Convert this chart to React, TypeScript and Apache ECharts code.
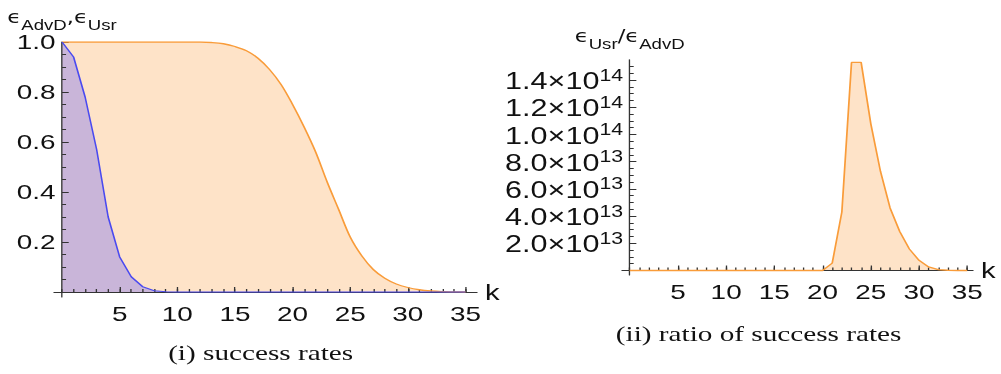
import React, { useEffect, useRef } from "react";
import * as echarts from "echarts";

// ---- data ----
const kValues = Array.from({ length: 36 }, (_, i) => i); // 0..35
const epsAdvD = [
  1.0, 0.94, 0.78, 0.57, 0.3, 0.14, 0.061, 0.021, 0.005, 0.001, 0, 0, 0, 0, 0, 0, 0, 0,
  0, 0, 0, 0, 0, 0, 0, 0, 0, 0, 0, 0, 0, 0, 0, 0, 0, 0,
];
const epsUsr = [
  1.0, 1.0, 1.0, 1.0, 1.0, 1.0, 1.0, 1.0, 1.0, 1.0, 1.0, 1.0, 1.0, 0.998, 0.993, 0.982,
  0.965, 0.935, 0.89, 0.83, 0.75, 0.66, 0.56, 0.44, 0.33, 0.22, 0.145, 0.09, 0.055, 0.032,
  0.018, 0.009, 0.004, 0.0015, 0.0005, 0,
];
const ratio = [
  0, 0, 0, 0, 0, 0, 0, 0, 0, 0, 0, 0, 0, 0, 0, 0, 0, 0, 0, 0, 0, 0.54e13, 4.3e13, 1.53e14,
  1.53e14, 10.8e13, 7.3e13, 4.6e13, 2.87e13, 1.58e13, 0.75e13, 0.26e13, 0.07e13, 0.02e13,
  0, 0,
];
const xMajorTicks = [5, 10, 15, 20, 25, 30, 35];
const xMinorTicks = Array.from({ length: 36 }, (_, i) => i);
const leftYMajor = [0.2, 0.4, 0.6, 0.8, 1.0];
const leftYMinor = Array.from({ length: 21 }, (_, i) => i * 0.05);
const rightYMajor = [2e13, 4e13, 6e13, 8e13, 1e14, 1.2e14, 1.4e14];
const rightYMinor = Array.from({ length: 31 }, (_, i) => i * 0.5e13);

const captions = ["(i) success rates", "(ii) ratio of success rates"];

const AXIS = "#333";
const ORANGE = "#f99c3a";
const ORANGE_FILL = "#fee3c8";
const BLUE = "#4a4af0";
const PURPLE_FILL = "#c9b5d9";
const SANS = "'Liberation Sans', Arial, sans-serif";
const SERIF = "'Liberation Serif', 'Times New Roman', serif";

// the reference picture is stretched horizontally
const INNER_W = 753;
const S = 1001 / INNER_W;
const px = (x: number) => x / S;

function supLabel(v: number) {
  const e = Math.floor(Math.log10(v) + 1e-9);
  const m = (v / Math.pow(10, e)).toFixed(1);
  return `{m|${m}×10}{s|${e}}`;
}

type Panel = { left: number; top: number; width: number; height: number; xMin: number; xMax: number; yMin: number; yMax: number };
const P1: Panel = { left: px(54), top: 42, width: px(423), height: 255, xMin: -0.7, xMax: 36, yMin: -0.02, yMax: 1.0 };
const P2: Panel = { left: px(622), top: 59.7, width: px(351), height: 215.3, xMin: -0.8, xMax: 35.6, yMin: -0.33e13, yMax: 1.55e14 };

// distance of the zero lines from the grid edges
const yAxisShift = (p: Panel) => ((0 - p.xMin) / (p.xMax - p.xMin)) * p.width;
const xAxisShift = (p: Panel) => ((0 - p.yMin) / (p.yMax - p.yMin)) * p.height;

export default function App() {
  const ref = useRef<HTMLDivElement>(null);
  useEffect(() => {
    if (!ref.current) return;
    const chart = echarts.init(ref.current, undefined, { renderer: "svg" });
    const pairs = (ys: number[]) => kValues.map((k, i) => [k, ys[i]]);

    const baseX = (gridIndex: number, p: Panel, major: boolean, name?: string) => ({
      type: "value",
      gridIndex,
      min: p.xMin,
      max: p.xMax,
      position: "bottom",
      offset: -xAxisShift(p),
      z: 3,
      name: name ?? "",
      nameLocation: "end",
      nameGap: 6,
      nameTextStyle: { fontFamily: SANS, fontSize: 22, color: "#111", verticalAlign: "middle", padding: [0, 0, 4, 0] },
      axisLine: { show: major, onZero: false, lineStyle: { color: AXIS, width: 1 } },
      axisTick: {
        show: true,
        inside: true,
        length: major ? 5 : 3,
        customValues: major ? xMajorTicks : xMinorTicks,
        lineStyle: { color: AXIS, width: 1 },
      },
      axisLabel: {
        show: major,
        customValues: xMajorTicks,
        fontFamily: SANS,
        fontSize: 21,
        color: "#111",
        margin: 11,
      },
      splitLine: { show: false },
    });

    const baseY = (
      gridIndex: number,
      p: Panel,
      major: boolean,
      majorVals: number[],
      minorVals: number[],
      fmt: (v: number) => string,
      fontSize: number,
      name?: string,
      rich?: any,
      nameRich?: any,
      nameGap?: number
    ) => ({
      type: "value",
      gridIndex,
      min: p.yMin,
      max: p.yMax,
      position: "left",
      offset: -yAxisShift(p),
      z: 3,
      name: name ?? "",
      nameLocation: "end",
      nameGap: nameGap ?? 12,
      nameTextStyle: { rich: nameRich, align: "center" },
      axisLine: { show: major, onZero: false, lineStyle: { color: AXIS, width: 1 } },
      axisTick: {
        show: true,
        inside: true,
        length: major ? 5 : 3,
        customValues: major ? majorVals : minorVals,
        lineStyle: { color: AXIS, width: 1 },
      },
      axisLabel: {
        show: major,
        customValues: majorVals,
        formatter: fmt,
        fontFamily: SANS,
        fontSize,
        color: "#111",
        margin: 5,
        rich,
      },
      splitLine: { show: false },
    });

    const epsRich = {
      e: { fontFamily: "'DejaVu Sans', sans-serif", fontSize: 17, color: "#111", verticalAlign: "bottom" },
      s: { fontFamily: SANS, fontSize: 14, color: "#111", verticalAlign: "bottom", padding: [0, 0, -6, 0] },
    };

    // fill below the axes, outline above them
    const areaSeries = (xi: number, yi: number, ys: number[], fill: string, smooth: number, z: number) => ({
      type: "line",
      xAxisIndex: xi,
      yAxisIndex: yi,
      data: pairs(ys),
      smooth,
      showSymbol: false,
      lineStyle: { width: 0, opacity: 0 },
      areaStyle: { color: fill, opacity: 1, origin: 0 },
      z,
      silent: true,
    });
    const lineSeries = (xi: number, yi: number, ys: number[], color: string, smooth: number, width: number, z: number) => ({
      type: "line",
      xAxisIndex: xi,
      yAxisIndex: yi,
      data: pairs(ys),
      smooth,
      showSymbol: false,
      lineStyle: { color, width },
      z,
    });

    chart.setOption({
      animation: false,
      title: [
        {
          text: captions[0],
          left: px(254),
          top: 337,
          textAlign: "center",
          textStyle: { fontFamily: SERIF, fontSize: 22, fontWeight: "normal", color: "#111" },
        },
        {
          text: captions[1],
          left: px(752),
          top: 318,
          textAlign: "center",
          textStyle: { fontFamily: SERIF, fontSize: 22, fontWeight: "normal", color: "#111" },
        },
      ],
      grid: [
        { left: P1.left, top: P1.top, width: P1.width, height: P1.height, containLabel: false },
        { left: P2.left, top: P2.top, width: P2.width, height: P2.height, containLabel: false },
      ],
      xAxis: [baseX(0, P1, true, "k"), baseX(0, P1, false), baseX(1, P2, true, "k"), baseX(1, P2, false)],
      yAxis: [
        baseY(0, P1, true, leftYMajor, leftYMinor, (v) => v.toFixed(1), 21, "{e|ϵ}{s|AdvD}{e|,ϵ}{s|Usr}", undefined, epsRich, 14),
        baseY(0, P1, false, leftYMajor, leftYMinor, () => "", 21),
        baseY(
          1,
          P2,
          true,
          rightYMajor,
          rightYMinor,
          supLabel,
          23,
          "{e|ϵ}{s|Usr}{e|/ϵ}{s|AdvD}",
          {
            m: { fontFamily: SANS, fontSize: 23, color: "#111", verticalAlign: "bottom" },
            s: { fontFamily: SANS, fontSize: 16, color: "#111", verticalAlign: "top", padding: [0, 0, 10, 0] },
          },
          epsRich,
          15
        ),
        baseY(1, P2, false, rightYMajor, rightYMinor, () => "", 23),
      ],
      series: [
        areaSeries(0, 0, epsUsr, ORANGE_FILL, 0.35, 1),
        areaSeries(0, 0, epsAdvD, PURPLE_FILL, 0, 2),
        areaSeries(2, 2, ratio, ORANGE_FILL, 0, 1),
        lineSeries(0, 0, epsUsr, ORANGE, 0.35, 1.3, 5),
        lineSeries(0, 0, epsAdvD, BLUE, 0, 1.2, 6),
        lineSeries(2, 2, ratio, ORANGE, 0, 1.3, 5),
      ],
    });
    return () => chart.dispose();
  }, []);
  return (
    <div
      ref={ref}
      style={{
        position: "fixed",
        left: 0,
        top: 0,
        width: INNER_W,
        height: 374,
        transform: `scaleX(${S})`,
        transformOrigin: "0 0",
      }}
    />
  );
}
